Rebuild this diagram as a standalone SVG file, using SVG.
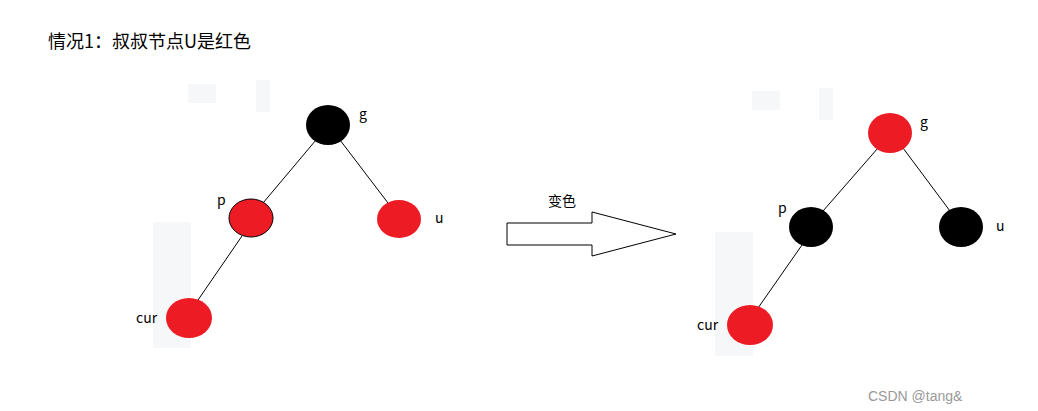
<svg xmlns="http://www.w3.org/2000/svg" width="1038" height="411" viewBox="0 0 1038 411">
<style>
.t{font-family:"Microsoft YaHei","Noto Sans CJK SC","Liberation Sans",sans-serif;fill:#000}
.l{stroke:#000;stroke-width:1}
.red{fill:#ed1c24}
.blk{fill:#000}
.f{fill:#f6f7f9}
</style>
<rect width="1038" height="411" fill="#fff"/>
<g id="bg">
<rect class="f" x="188" y="84" width="28" height="19"/>
<rect class="f" x="256" y="80" width="14" height="32"/>
<rect class="f" x="153" y="222" width="38" height="126"/>
<rect class="f" x="752" y="91" width="28" height="19"/>
<rect class="f" x="819" y="88" width="14" height="32"/>
<rect class="f" x="715" y="232" width="38" height="124"/>
</g>
<text class="t" x="48" y="48" font-size="18">情况1：叔叔节点U是红色</text>
<g id="connectors">
<line class="l" x1="316" y1="140" x2="263" y2="203"/>
<line class="l" x1="340" y1="140" x2="388" y2="203"/>
<line class="l" x1="242" y1="236" x2="198" y2="300"/>
<line class="l" x1="878" y1="148" x2="823" y2="211"/>
<line class="l" x1="903" y1="148" x2="950" y2="211"/>
<line class="l" x1="802" y1="245" x2="758" y2="308"/>
</g>
<g id="L_g"><ellipse class="blk" cx="328" cy="125" rx="22" ry="20"/><text class="t" x="359" y="119" font-size="14">g</text></g>
<g id="L_p"><ellipse class="red" cx="251" cy="218" rx="22" ry="19" stroke="#000"/><text class="t" x="217" y="205" font-size="14">p</text></g>
<g id="L_u"><ellipse class="red" cx="399" cy="219" rx="22" ry="19"/><text class="t" x="435" y="223" font-size="14">u</text></g>
<g id="L_cur"><ellipse class="red" cx="189" cy="318" rx="23" ry="20"/><text class="t" x="136" y="323" font-size="14">cur</text></g>
<g id="arrow"><polygon points="507,223 592,223 592,212 676,234 592,256 592,245 507,245" fill="#fff" stroke="#000"/><text class="t" x="548" y="206" font-size="14">变色</text></g>
<g id="R_g"><ellipse class="red" cx="890" cy="133" rx="22" ry="20"/><text class="t" x="920" y="127" font-size="14">g</text></g>
<g id="R_p"><ellipse class="blk" cx="811" cy="227" rx="22" ry="20"/><text class="t" x="778" y="213" font-size="14">p</text></g>
<g id="R_u"><ellipse class="blk" cx="961" cy="227" rx="22" ry="20"/><text class="t" x="996" y="231" font-size="14">u</text></g>
<g id="R_cur"><ellipse class="red" cx="750" cy="325" rx="23" ry="20"/><text class="t" x="697" y="330" font-size="14">cur</text></g>
<text x="868" y="401" font-size="14" font-family="Liberation Sans,sans-serif" fill="#999">CSDN @tang&amp;</text>
</svg>
